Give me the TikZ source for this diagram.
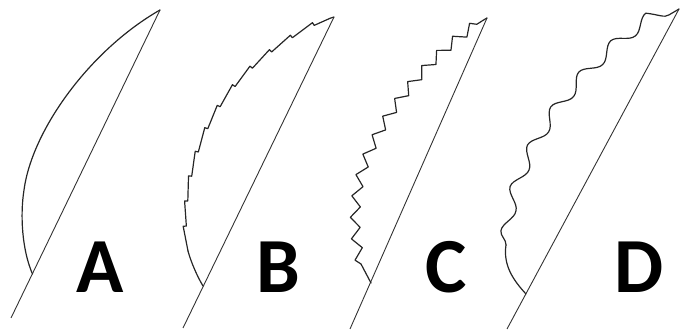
\documentclass[tikz,border=0pt]{standalone}
\usepackage{fontspec}
\newfontfamily\labelfont{Carlito}
\usetikzlibrary{decorations.pathmorphing}
\tikzset{
  axisline/.style={line width=0.45pt, black!80},
  margin/.style={line width=0.6pt, black!85, line join=round, line cap=round},
  letter/.style={font=\labelfont\bfseries\fontsize{39}{39}\selectfont, inner sep=0pt, anchor=base}
}
\begin{document}
\begin{tikzpicture}[x=0.5pt, y=-0.5pt]
\useasboundingbox (0,0) rectangle (680,330);
% A
\coordinate (a0) at (11,318);
\coordinate (a1) at (160,10);
\coordinate (ab) at (32.5,274);
\coordinate (am) at (24,190);
\draw[axisline] (a0) -- (a1);
\draw[margin] (ab) .. controls (22,250) and (20,215) .. (am) .. controls (32,130) and (90,50) .. (a1);
\node[letter] (la) at (100,293) {A};
% B
\coordinate (b0) at (183,328);
\coordinate (b1) at (334,17);
\coordinate (bb) at (203,286);
\coordinate (bs) at (188,251);
\draw[axisline] (b0) -- (b1);
\draw[margin] (bb) .. controls (197,276) and (191,262) .. (bs);
\draw[margin, decorate, decoration={saw, segment length=12.5pt, amplitude=1.6pt, post length=2pt}]
  (bs) .. controls (182,160) and (215,70) .. (b1);
\node[letter] (lb) at (278,293) {B};
% C
\coordinate (c0) at (350,329);
\coordinate (c1) at (487,18);
\coordinate (cb) at (371,283);
\coordinate (cs) at (361,264);
\coordinate (cm) at (372,146);
\draw[axisline] (c0) -- (c1);
\draw[margin] (cb) -- (cs);
\draw[margin, decorate, decoration={zigzag, segment length=10.5pt, amplitude=2.4pt, post length=2pt}]
  (cs) .. controls (352,230) and (352,185) .. (cm) .. controls (393,100) and (440,45) .. (c1);
\node[letter] (lc) at (446,293) {C};
% D
\coordinate (d0) at (507,329);
\coordinate (d1) at (679,9);
\coordinate (db) at (526,294);
\coordinate (ds) at (506,245);
\draw[axisline] (d0) -- (d1);
\draw[margin] (db) .. controls (513,280) and (503,265) .. (ds);
\draw[margin, decorate, decoration={snake, segment length=22pt, amplitude=3pt, post length=2pt}]
  (ds) .. controls (510,180) and (560,80) .. (d1);
\node[letter] (ld) at (639,293) {D};
\end{tikzpicture}
\end{document}
